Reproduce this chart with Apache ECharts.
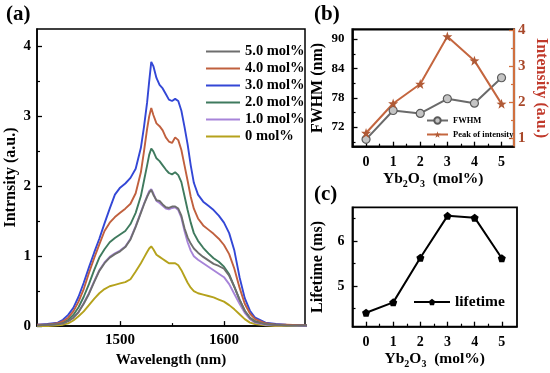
<!DOCTYPE html>
<html><head><meta charset="utf-8">
<script src="https://cdn.jsdelivr.net/npm/echarts@6/dist/echarts.min.js"></script>
<style>html,body{margin:0;padding:0;background:#fff}#c{width:550px;height:373px}</style>
</head><body><div id="c"></div>
<script>
// ---- Panel (a): emission spectra ----
const wavelength = [1420,1430,1440,1445,1450,1455,1460,1465,1470,1475,1480,1485,1490,1495,1500,1505,1510,1515,1520,1523,1526,1528,1530,1532,1535,1538,1541,1544,1547,1550,1553,1556,1559,1562,1565,1568,1571,1575,1580,1585,1590,1595,1600,1605,1610,1615,1620,1625,1630,1640,1650,1660,1680];
const spec50 = [0.01,0.02,0.03,0.04,0.07,0.12,0.2,0.32,0.46,0.63,0.79,0.9,0.98,1.03,1.07,1.13,1.24,1.42,1.62,1.74,1.85,1.91,1.95,1.88,1.8,1.79,1.74,1.7,1.69,1.71,1.71,1.68,1.58,1.4,1.27,1.18,1.11,1.05,0.99,0.94,0.89,0.86,0.82,0.72,0.56,0.38,0.22,0.12,0.06,0.03,0.02,0.01,0.01];
const spec40 = [0.02,0.02,0.04,0.07,0.12,0.21,0.35,0.53,0.76,0.97,1.17,1.36,1.48,1.56,1.62,1.68,1.75,1.9,2.2,2.5,2.82,3.0,3.12,3.02,2.9,2.86,2.8,2.7,2.64,2.62,2.7,2.66,2.52,2.3,2.08,1.85,1.68,1.54,1.44,1.38,1.32,1.25,1.16,1.03,0.82,0.55,0.32,0.18,0.1,0.04,0.02,0.02,0.01];
const spec30 = [0.02,0.03,0.05,0.09,0.16,0.26,0.42,0.62,0.84,1.05,1.25,1.47,1.68,1.88,1.98,2.04,2.12,2.25,2.55,2.85,3.2,3.5,3.78,3.72,3.55,3.45,3.4,3.32,3.24,3.22,3.25,3.22,3.08,2.85,2.6,2.3,2.05,1.88,1.78,1.72,1.66,1.58,1.48,1.33,1.08,0.7,0.4,0.22,0.12,0.05,0.03,0.02,0.01];
const spec20 = [0.01,0.02,0.03,0.05,0.09,0.16,0.27,0.42,0.6,0.8,0.98,1.1,1.2,1.26,1.31,1.36,1.46,1.62,1.86,2.08,2.3,2.45,2.54,2.5,2.4,2.36,2.3,2.24,2.19,2.17,2.2,2.16,2.06,1.86,1.66,1.48,1.33,1.22,1.12,1.04,0.97,0.92,0.85,0.74,0.56,0.38,0.22,0.12,0.07,0.03,0.02,0.01,0.01];
const spec10 = [0.01,0.02,0.03,0.04,0.07,0.12,0.2,0.33,0.47,0.64,0.8,0.91,0.99,1.04,1.08,1.14,1.25,1.43,1.63,1.75,1.86,1.93,1.96,1.9,1.79,1.76,1.72,1.68,1.67,1.69,1.7,1.66,1.55,1.36,1.2,1.08,1.0,0.95,0.9,0.85,0.8,0.75,0.7,0.6,0.46,0.32,0.19,0.1,0.05,0.02,0.01,0.01,0.0];
const spec00 = [0.0,0.0,0.01,0.02,0.04,0.08,0.14,0.21,0.3,0.39,0.47,0.53,0.57,0.59,0.61,0.63,0.67,0.78,0.9,0.98,1.06,1.11,1.14,1.1,1.02,0.99,0.96,0.93,0.9,0.9,0.9,0.87,0.8,0.71,0.62,0.55,0.5,0.47,0.45,0.43,0.41,0.38,0.35,0.3,0.24,0.17,0.1,0.05,0.03,0.01,0.0,0.0,0.0];
const specNames = ['5.0 mol%','4.0 mol%','3.0 mol%','2.0 mol%','1.0 mol%','0 mol%'];
const specColors = ['#6e6e6e','#c0603e','#3347d6','#3f7a5e','#a784d9','#b5a21c'];
const specAll = [spec50, spec40, spec30, spec20, spec10, spec00];
const specXTicks = [1500, 1600];
const specXMinor = [1550];
const specYTicks = [0,1,2,3,4];
const specYMinor = [0.5,1.5,2.5,3.5];

// ---- Panel (b) and (c) ----
const conc = [0,1,2,3,4,5];
const fwhm = [69.5, 75.4, 74.8, 77.8, 76.9, 82.1];
const peakIntensity = [1.14, 1.96, 2.5, 3.82, 3.15, 1.95];
const lifetime = [4.41, 4.64, 5.63, 6.56, 6.52, 5.62];
const concTicks = [0,1,2,3,4,5];
const concMinor = [0.5,1.5,2.5,3.5,4.5];
const fwhmTicks = [72,78,84,90];
const fwhmMinor = [69,75,81,87];
const intTicks = [1,2,3,4];
const intMinor = [1.5,2.5,3.5];
const lifeTicks = [5,6];
const lifeMinor = [4.5,5.5,6.5];

const F = "'Liberation Serif', 'Times New Roman', serif";
const txt = (size, color) => ({fontFamily: F, fontWeight: 'bold', fontSize: size, color: color || '#000'});

function mainAxis(o) {
  const color = o.color || '#000';
  return {
    type: 'value', gridIndex: o.grid, position: o.pos, min: o.min, max: o.max,
    axisLine: {show: true, onZero: false, lineStyle: {color: color, width: o.lw || 1.5}},
    axisTick: {show: true, inside: true, length: 5, customValues: o.ticks, lineStyle: {color: color, width: 1.3}},
    axisLabel: Object.assign({show: true, customValues: o.ticks, margin: o.margin, formatter: v => String(v)}, txt(o.fs, o.labelColor)),
    splitLine: {show: false},
    name: o.name, nameLocation: 'middle', nameGap: o.nameGap, nameRotate: o.nameRotate,
    nameTextStyle: Object.assign(txt(o.nfs, o.nameColor), o.rich ? {rich: o.rich} : {})
  };
}
function minorAxis(o) {
  const color = o.color || '#000';
  return {
    type: 'value', gridIndex: o.grid, position: o.pos, min: o.min, max: o.max,
    axisLine: {show: false, onZero: false},
    axisTick: {show: true, inside: true, length: 3, customValues: o.ticks, lineStyle: {color: color, width: 1.2}},
    axisLabel: {show: false}, splitLine: {show: false}
  };
}

const subRich = {
  n: {fontFamily: F, fontWeight: 'bold', fontSize: 15.5, color: '#000', lineHeight: 18, verticalAlign: 'top'},
  s: {fontFamily: F, fontWeight: 'bold', fontSize: 10, color: '#000', lineHeight: 10, verticalAlign: 'top', padding: [9, 0, 0, 0]}
};
const ybName = '{n|Yb}{s|2}{n|O}{s|3}{n|  (mol%)}';

const xAxis = [
  mainAxis({grid: 0, pos: 'bottom', min: 1420, max: 1678, ticks: specXTicks, margin: 7, fs: 15, name: 'Wavelength (nm)', nameGap: 25, nfs: 15}),
  minorAxis({grid: 0, pos: 'bottom', min: 1420, max: 1678, ticks: specXMinor}),
  mainAxis({grid: 1, pos: 'bottom', min: -0.5, max: 5.46, ticks: concTicks, margin: 9, fs: 14, name: ybName, nameGap: 20, nfs: 15, rich: subRich}),
  minorAxis({grid: 1, pos: 'bottom', min: -0.5, max: 5.46, ticks: concMinor}),
  mainAxis({grid: 2, pos: 'bottom', min: -0.5, max: 5.56, ticks: concTicks, margin: 9, fs: 14, name: ybName, nameGap: 20, nfs: 15, rich: subRich}),
  minorAxis({grid: 2, pos: 'bottom', min: -0.5, max: 5.56, ticks: concMinor})
];
const yAxis = [
  mainAxis({grid: 0, pos: 'left', min: 0, max: 4.25, ticks: specYTicks, margin: 6, fs: 15, name: 'Intrnsity (a.u.)', nameGap: 18, nfs: 16, nameRotate: 90}),
  minorAxis({grid: 0, pos: 'left', min: 0, max: 4.25, ticks: specYMinor}),
  mainAxis({grid: 1, pos: 'left', min: 68, max: 92, ticks: fwhmTicks, margin: 8, fs: 13, name: 'FWHM (nm)', nameGap: 27, nfs: 16, nameRotate: 90}),
  minorAxis({grid: 1, pos: 'left', min: 68, max: 92, ticks: fwhmMinor}),
  mainAxis({grid: 1, pos: 'right', min: 0.76, max: 4.02, ticks: intTicks, margin: 4, fs: 15, labelColor: '#a8482a', color: '#d0703f', lw: 2, name: 'Intensity (a.u.)', nameGap: 19, nfs: 16, nameColor: '#c0392b', nameRotate: -90}),
  minorAxis({grid: 1, pos: 'right', min: 0.76, max: 4.02, ticks: intMinor, color: '#d0703f'}),
  mainAxis({grid: 2, pos: 'left', min: 4.1, max: 6.75, ticks: lifeTicks, margin: 8, fs: 14, name: 'Lifetime (ms)', nameGap: 27, nfs: 16, nameRotate: 90}),
  minorAxis({grid: 2, pos: 'left', min: 4.1, max: 6.75, ticks: lifeMinor})
];

const star = 'path://M0,-10 L2.35,-3.24 L9.51,-3.09 L3.8,1.24 L5.88,8.09 L0,4 L-5.88,8.09 L-3.8,1.24 L-9.51,-3.09 L-2.35,-3.24 Z';
const pentagon = 'path://M0,-10 L9.51,-3.09 L5.88,8.09 L-5.88,8.09 L-9.51,-3.09 Z';

const series = [];
// draw order: 0 first up to 5.0 last
for (let k = specAll.length - 1; k >= 0; k--) {
  series.push({
    name: specNames[k], type: 'line', xAxisIndex: 0, yAxisIndex: 0, symbol: 'none',
    data: wavelength.map((w, i) => [w, specAll[k][i]]),
    lineStyle: {color: specColors[k], width: 1.9}, itemStyle: {color: specColors[k]}, z: 3
  });
}
series.push({
  name: 'FWHM', type: 'line', xAxisIndex: 2, yAxisIndex: 2, symbol: 'circle', symbolSize: 8,
  data: conc.map((c, i) => [c, fwhm[i]]),
  lineStyle: {color: '#6a6a6a', width: 2},
  itemStyle: {color: '#c4c4c4', borderColor: '#5a5a5a', borderWidth: 1.2}
});
series.push({
  name: 'Peak of intensity', type: 'line', xAxisIndex: 2, yAxisIndex: 4, symbol: star, symbolSize: 10,
  data: conc.map((c, i) => [c, peakIntensity[i]]),
  lineStyle: {color: '#c4663f', width: 2},
  itemStyle: {color: '#b05a36'}
});
series.push({
  name: 'lifetime', type: 'line', xAxisIndex: 4, yAxisIndex: 6, symbol: pentagon, symbolSize: 8,
  data: conc.map((c, i) => [c, lifetime[i]]),
  lineStyle: {color: '#000', width: 2},
  itemStyle: {color: '#000'}
});

const option = {
  backgroundColor: '#fff',
  animation: false,
  title: [
    {text: '(a)', left: 6, top: 4, padding: 0, textStyle: txt(21)},
    {text: '(b)', left: 314, top: 4, padding: 0, textStyle: txt(21)},
    {text: '(c)', left: 314, top: 184, padding: 0, textStyle: txt(21)}
  ],
  grid: [
    {left: 37, top: 29, width: 268, height: 298, show: true, borderColor: '#000', borderWidth: 1.5, backgroundColor: 'transparent'},
    {left: 352.5, top: 29.3, width: 162, height: 117.4, show: true, borderColor: '#000', borderWidth: 2.2, backgroundColor: 'transparent'},
    {left: 352.5, top: 207.3, width: 164.5, height: 119.4, show: true, borderColor: '#000', borderWidth: 1.8, backgroundColor: 'transparent'}
  ],
  legend: [
    {data: specNames, orient: 'vertical', left: 201, top: 39, itemWidth: 34, itemHeight: 2, itemGap: 2,
     icon: 'rect', textStyle: txt(14.5)},
    {data: ['FWHM', 'Peak of intensity'], orient: 'vertical', left: 421, top: 111, itemWidth: 21, itemHeight: 8, itemGap: 5,
     textStyle: txt(8.5)},
    {data: ['lifetime'], orient: 'vertical', left: 408, top: 289, itemWidth: 36, itemHeight: 8,
     textStyle: txt(15.5)}
  ],
  xAxis: xAxis,
  yAxis: yAxis,
  series: series
};
const chart = echarts.init(document.getElementById('c'), null, {renderer: 'canvas'});
chart.setOption(option);
</script></body></html>
